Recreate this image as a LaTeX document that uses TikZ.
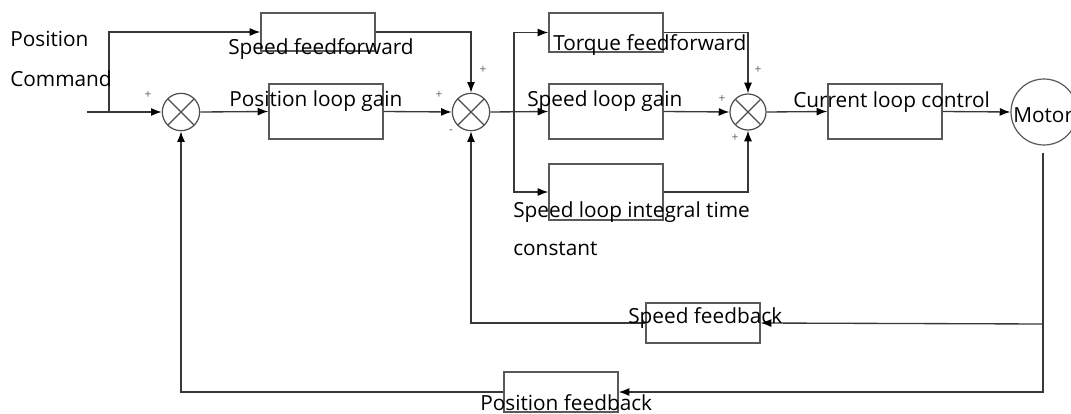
\documentclass[tikz,border=0pt]{standalone}
\usepackage{fontspec}
\setmainfont{Open Sans}
\usetikzlibrary{arrows.meta}
\begin{document}
\begin{tikzpicture}[x=0.75pt,y=-0.75pt,
  ln/.style={draw=black!78, line width=1pt},
  arr/.style={ln, -{Latex[length=8pt,width=6pt,black]}},
  blk/.style={draw=black!65, line width=1pt, inner sep=0, minimum width=85.5pt},
  sumj/.style={circle, draw=black!70, line width=0.9pt, minimum size=28pt, inner sep=0,
    path picture={\draw[black!70, line width=0.9pt]
      (path picture bounding box.north west) -- (path picture bounding box.south east)
      (path picture bounding box.north east) -- (path picture bounding box.south west);}},
  motorc/.style={circle, draw=black!65, line width=0.9pt, minimum size=49.5pt, inner sep=0},
  lbl/.style={font=\fontsize{15.6}{18}\selectfont, inner sep=0, anchor=base west},
  sgn/.style={font=\fontsize{9}{10}\selectfont, text=black!60, inner sep=0}]
\useasboundingbox (0,0) rectangle (1071,414);
% blocks
\node[blk, minimum height=28.5pt] (sff) at (318,32) {};
\node[blk, minimum height=41.25pt] (plg) at (326,111.5) {};
\node[blk, minimum height=29.25pt] (tff) at (606,32.5) {};
\node[blk, minimum height=41.25pt] (slg) at (606,111.5) {};
\node[blk, minimum height=42pt] (sli) at (606,192) {};
\node[blk, minimum height=41.25pt] (clc) at (885,111.5) {};
\node[blk, minimum height=30pt] (sfb) at (703,323) {};
\node[blk, minimum height=30pt] (pfb) at (561,392) {};
% junctions
\node[sumj] (s1) at (181,112) {};
\node[sumj] (s2) at (471,112) {};
\node[sumj, minimum size=27pt] (s3) at (748,112) {};
\node[motorc] (mot) at (1044,112) {};
% coordinates
\coordinate (in) at (87,112);
\coordinate (b1) at (109,112);
\coordinate (b2) at (514,112);
\coordinate (mb) at (1043,153);
\coordinate (sj) at (1043,324);
% connectors
\draw[arr] (in) -- (s1.west);
\draw[arr] (b1) |- (sff.west);
\draw[arr] (s1.east) -- (plg.west);
\draw[arr] (plg.east) -- (s2.west);
\draw[arr] (sff.east) -| (s2.north);
\draw[arr] (s2.east) -- (slg.west);
\draw[arr] (b2) |- (tff.west);
\draw[arr] (b2) |- (sli.west);
\draw[arr] (tff.east) -| (s3.north);
\draw[arr] (slg.east) -- (s3.west);
\draw[arr] (sli.east) -| (s3.south);
\draw[arr] (s3.east) -- (clc.west);
\draw[arr] (clc.east) -- (mot.west);
\draw[arr] (mb) |- (pfb.east);
\draw[arr] (sj) -- (sfb.east);
\draw[arr] (sfb.west) -| (s2.south);
\draw[arr] (pfb.west) -| (s1.south);
% labels
\node[lbl] (tpos) at (10,46) {Position};
\node[lbl] (tcmd) at (10,86) {Command};
\node[lbl] (tsff) at (228,54) {Speed feedforward};
\node[lbl] (tplg) at (229,106) {Position loop gain};
\node[lbl] (ttff) at (553,50) {Torque feedforward};
\node[lbl] (tslg) at (527,106) {Speed loop gain};
\node[lbl] (tclc) at (793,107) {Current loop control};
\node[lbl] (tmot) at (1013,122) {Motor};
\node[lbl] (tsli) at (513,217) {Speed loop integral time};
\node[lbl] (tcon) at (513,255) {constant};
\node[lbl] (tsfb) at (628,323) {Speed feedback};
\node[lbl] (tpfb) at (480,410) {Position feedback};
% signs
\node[sgn] (p1) at (148,95) {+};
\node[sgn] (p2) at (439,95) {+};
\node[sgn] (p3) at (483,70) {+};
\node[sgn] (m2) at (451,132) {-};
\node[sgn] (p4) at (758,70) {+};
\node[sgn] (p5) at (722,99) {+};
\node[sgn] (p6) at (735,138) {+};
\end{tikzpicture}
\end{document}
